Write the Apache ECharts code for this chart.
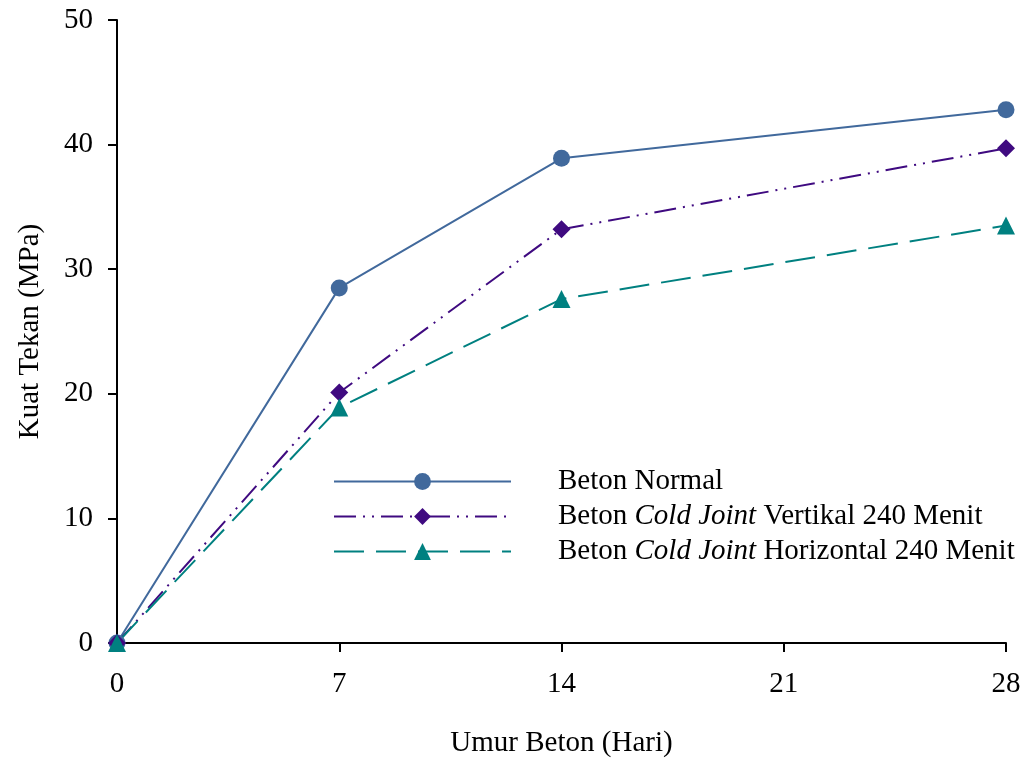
<!DOCTYPE html>
<html>
<head>
<meta charset="utf-8">
<script src="https://cdn.jsdelivr.net/npm/echarts@6/dist/echarts.min.js"></script>
<style>
  html, body { margin: 0; padding: 0; background: #fff; }
  #main { width: 1031px; height: 760px; }
</style>
</head>
<body>
<div id="main"></div>
<script>
// umur beton (hari) dan kuat tekan (MPa)
const days = [0, 7, 14, 28]
const normal = [0, 28.5, 38.9, 42.8]
const vertikal = [0, 20.1, 33.2, 39.7]
const horizontal = [0, 18.9, 27.6, 33.5]
const seriesNames = [
  'Beton Normal',
  'Beton Cold Joint Vertikal 240 Menit',
  'Beton Cold Joint Horizontal 240 Menit',
]

const font = '"Liberation Serif", "Times New Roman", serif'
const fs = 29

function pairs(ys) {
  return days.map((d, i) => [d, ys[i]])
}

function legendText(name) {
  if (name.indexOf('Cold Joint') < 0) return '{n|' + name + '}'
  const rest = name.replace('Beton Cold Joint', '')
  return '{n|Beton }{i|Cold Joint}{n|' + rest + '}'
}

const myChart = echarts.init(document.getElementById('main'))

const axisCommon = {
  axisLine: { lineStyle: { color: '#000', width: 2 } },
  axisTick: { inside: false, length: 9, lineStyle: { color: '#000', width: 2 } },
  axisLabel: { color: '#000', fontFamily: font, fontSize: fs },
  splitLine: { show: false },
  nameLocation: 'middle',
  nameTextStyle: { color: '#000', fontFamily: font, fontSize: fs },
}

let option = {
  animation: false,
  backgroundColor: '#fff',
  grid: {
    left: 117,
    right: 25,
    top: 20,
    bottom: 117,
    containLabel: false,
    outerBoundsMode: 'none',
  },
  legend: {
    left: 333,
    top: 467,
    padding: 0,
    orient: 'vertical',
    itemWidth: 177,
    itemHeight: 21,
    itemGap: 6,
    data: seriesNames,
    formatter: legendText,
    textStyle: {
      color: '#000',
      fontFamily: font,
      fontSize: fs,
      padding: [0, 0, 0, 42],
      rich: {
        n: { fontFamily: font, fontSize: fs, color: '#000', lineHeight: 33 },
        i: { fontFamily: font, fontSize: fs, color: '#000', fontStyle: 'italic', lineHeight: 33 },
      },
    },
  },
  xAxis: Object.assign({}, axisCommon, {
    type: 'value',
    min: 0,
    max: 28,
    interval: 7,
    name: 'Umur Beton (Hari)',
    nameGap: 86,
    axisLabel: Object.assign({}, axisCommon.axisLabel, { margin: 27 }),
  }),
  yAxis: Object.assign({}, axisCommon, {
    type: 'value',
    min: 0,
    max: 50,
    interval: 10,
    name: 'Kuat Tekan (MPa)',
    nameGap: 72,
    axisLabel: Object.assign({}, axisCommon.axisLabel, { margin: 24 }),
  }),
  series: [
    {
      name: seriesNames[0],
      type: 'line',
      data: pairs(normal),
      symbol: 'circle',
      symbolSize: 17,
      lineStyle: { color: '#41699c', width: 2, type: 'solid' },
      itemStyle: { color: '#41699c' },
    },
    {
      name: seriesNames[1],
      type: 'line',
      data: pairs(vertikal),
      symbol: 'diamond',
      symbolSize: 18,
      lineStyle: { color: '#3f0a80', width: 2, type: [22, 7, 2, 7, 2, 7] },
      itemStyle: { color: '#3f0a80' },
    },
    {
      name: seriesNames[2],
      type: 'line',
      data: pairs(horizontal),
      symbol: 'triangle',
      symbolSize: 18,
      lineStyle: { color: '#008080', width: 2, type: [30, 12] },
      itemStyle: { color: '#008080' },
    },
  ],
}

myChart.setOption(option)

window.addEventListener('resize', function () {
  myChart.resize()
})
</script>
</body>
</html>
